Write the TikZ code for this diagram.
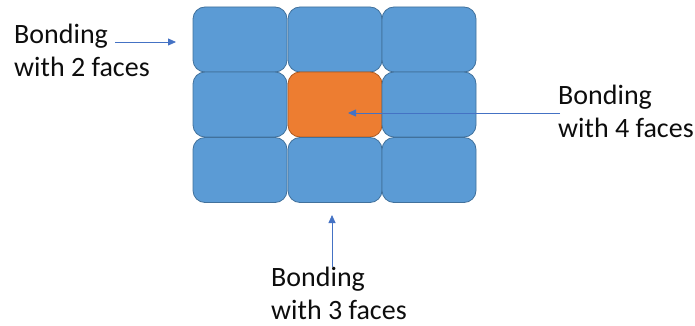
\documentclass[tikz,border=0pt]{standalone}
\usepackage{fontspec}
\setmainfont{Carlito}
\usetikzlibrary{arrows.meta}
\definecolor{cellblue}{HTML}{5B9BD5}
\definecolor{cellblueline}{HTML}{41719C}
\definecolor{cellorange}{HTML}{ED7D31}
\definecolor{cellorangeline}{HTML}{AE5A21}
\definecolor{arrowblue}{HTML}{4472C4}
\begin{document}
\begin{tikzpicture}[x=1pt,y=-1pt,
  cell/.style={draw=cellblueline, fill=cellblue, line width=0.8pt,
    rounded corners=12pt, minimum width=94pt, minimum height=65pt,
    inner sep=0pt},
  hot/.style={cell, draw=cellorangeline, fill=cellorange},
  label/.style={font=\fontsize{28}{33}\selectfont, text=black!95,
    align=left, inner sep=0pt, anchor=north west},
  pointer/.style={draw=arrowblue, line width=0.8pt,
    -{Triangle[length=8pt,width=7pt]}}]
\path[use as bounding box] (0,0) rectangle (695,326);

% 3x3 block of cells
\node[cell] (c11) at (240,39.5) {};
\node[cell] (c12) at (335,39.5) {};
\node[cell] (c13) at (429,39.5) {};
\node[cell] (c21) at (240,104.5) {};
\node[hot]  (c22) at (335,104.5) {};
\node[cell] (c23) at (429,104.5) {};
\node[cell] (c31) at (240,170) {};
\node[cell] (c32) at (335,170) {};
\node[cell] (c33) at (429,170) {};

% labels
\node[label] (two)   at (14,24)  {Bonding\\with 2 faces};
\node[label] (four)  at (558,85) {Bonding\\with 4 faces};
\node[label] (three) at (271,267) {Bonding\\with 3 faces};

% pointer ends
\coordinate (twoS)   at (115,42);
\coordinate (twoE)   at (176,42);
\coordinate (fourS)  at (560,113);
\coordinate (fourE)  at (348,113);
\coordinate (threeS) at (332,267);
\coordinate (threeE) at (332,215);

\draw[pointer] (twoS) -- (twoE);
\draw[pointer] (fourS) -- (fourE);
\draw[pointer] (threeS) -- (threeE);
\end{tikzpicture}
\end{document}
